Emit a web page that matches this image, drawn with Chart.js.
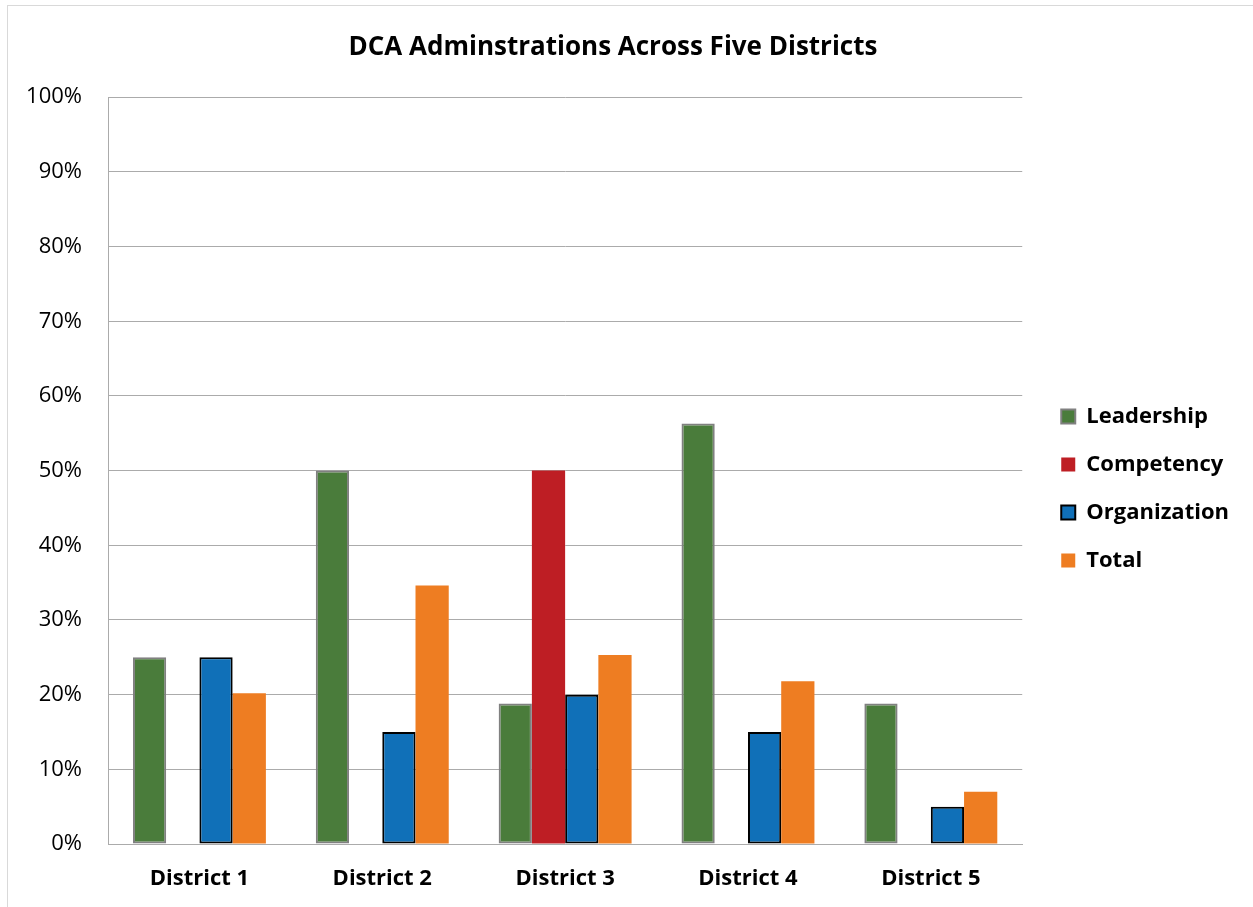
<!DOCTYPE html>
<html>
<head>
<meta charset="utf-8">
<script src="https://cdn.jsdelivr.net/npm/chart.js@4.4.1/dist/chart.umd.min.js"></script>
<style>
  html, body { margin: 0; padding: 0; background: #fff; }
  #frame { position: absolute; left: 7px; top: 5px; width: 1300px; height: 1000px; border: 1px solid #d9d9d9; }
  #wrap { position: absolute; left: 0; top: 0; width: 1253px; height: 907px; }
</style>
</head>
<body>
<div id="frame"></div>
<div id="wrap"><canvas id="chart" width="1253" height="907"></canvas></div>
<script>
const districts = ["District 1", "District 2", "District 3", "District 4", "District 5"];
const leadership = [25, 50, 18.8, 56.3, 18.8];
const competency = [0, 0, 50, 0, 0];
const organization = [25, 15, 20, 15, 5];
const total = [20.2, 34.6, 25.3, 21.8, 7];
const yTicks = [0, 10, 20, 30, 40, 50, 60, 70, 80, 90, 100];

const FONT = "'Open Sans', sans-serif";
const gridColor = "#ababab";

// nudge the legend a bit right of the plot, like the original
const legendShift = {
  id: "legendShift",
  afterLayout(chart) {
    chart.legend.left += 13;
    chart.legend.right += 13;
  },
};

const config = {
  type: "bar",
  data: {
    labels: districts,
    datasets: [
      { label: "Leadership", data: leadership, backgroundColor: "#4a7c3b", borderColor: "#808080", borderWidth: 2, borderSkipped: false },
      { label: "Competency", data: competency, backgroundColor: "#be1e24", borderColor: "#be1e24", borderWidth: 0 },
      { label: "Organization", data: organization, backgroundColor: "#1070b8", borderColor: "#000000", borderWidth: 2, borderSkipped: false },
      { label: "Total", data: total, backgroundColor: "#ee7d22", borderColor: "#ee7d22", borderWidth: 0 },
    ],
  },
  plugins: [legendShift],
  options: {
    responsive: false,
    animation: false,
    layout: { padding: { left: 0, right: 27, top: 0, bottom: 0 } },
    datasets: { bar: { categoryPercentage: 0.727, barPercentage: 1.0 } },
    plugins: {
      title: {
        display: true,
        text: "DCA Adminstrations Across Five Districts",
        color: "#000",
        font: { family: FONT, size: 26, weight: "bold" },
        padding: { top: 32, bottom: 34 },
      },
      tooltip: { enabled: false },
      legend: {
        position: "right",
        align: "center",
        title: { display: true, text: "", font: { size: 1 }, padding: { top: 69, bottom: 0 } },
        labels: {
          color: "#000",
          font: { family: FONT, size: 22, weight: "bold" },
          boxWidth: 14,
          boxHeight: 14,
          padding: 26,
        },
      },
    },
    scales: {
      x: {
        grid: { display: false, drawTicks: false },
        border: { display: true, color: gridColor, width: 1 },
        ticks: { color: "#000", font: { family: FONT, size: 22, weight: "bold" }, padding: 22 },
        afterFit: (scale) => { scale.height = 63; },
      },
      y: {
        min: 0,
        max: 100,
        afterBuildTicks: (scale) => { scale.ticks = yTicks.map((v) => ({ value: v })); },
        grid: { color: gridColor, lineWidth: 1, drawTicks: false },
        border: { display: true, color: gridColor, width: 1 },
        ticks: {
          color: "#000",
          font: { family: FONT, size: 22 },
          padding: 26,
          callback: (v) => v + "%",
        },
        afterFit: (scale) => { scale.width = 108; },
      },
    },
  },
};

const ctx = document.getElementById("chart").getContext("2d");
new Chart(ctx, config);
</script>
</body>
</html>
